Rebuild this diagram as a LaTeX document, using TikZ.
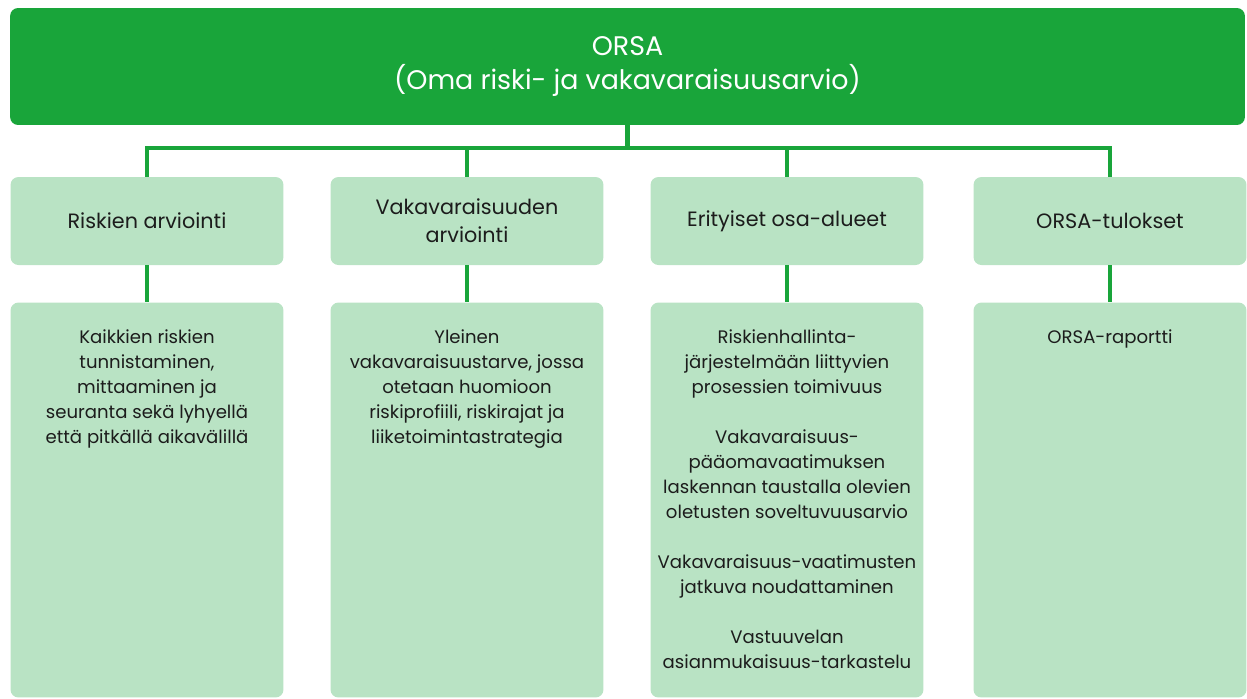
\documentclass[tikz,border=0pt]{standalone}
\usepackage{fontspec}
\setmainfont{Poppins}
\usetikzlibrary{positioning}
\definecolor{orsa_dark}  {HTML} {19A53A}
\definecolor{orsa_light} {HTML} {B9E3C4}
\definecolor{orsa_text}  {HTML} {1C1C1C}

\begin{document}
\begin{tikzpicture}[x=0.02cm,y=-0.02cm,
  head/.style={fill=orsa_dark,rounded corners=4.5pt,minimum width=24.7cm,minimum height=2.34cm,
    text=white,align=center,font=\fontsize{15.3}{19.8}\selectfont},
  area/.style={fill=orsa_light,rounded corners=4.5pt,minimum width=5.46cm,minimum height=1.76cm,
    text=orsa_text,align=center,font=\fontsize{11.8}{15.9}\selectfont},
  detail/.style={fill=orsa_light,rounded corners=4.5pt,minimum width=5.46cm,minimum height=7.9cm},
  detailtext/.style={text=orsa_text,align=center,inner sep=0pt,font=\fontsize{10.3}{14.2}\selectfont},
  link/.style={draw=orsa_dark,line width=2.3pt}]
\useasboundingbox (0,0) rectangle (1247,698);
% title
\node[head] (orsa) at (627.5,66.5) {ORSA\\(Oma riski- ja vakavaraisuusarvio)};
% main areas
\node[area] (riski) at (147,221) {Riskien arviointi};
\node[area] (vaka) at (467,221) {Vakavaraisuuden\\arviointi};
\node[area] (erit) at (787,221) {Erityiset osa-alueet};
\node[area] (tulos) at (1110,221) {ORSA-tulokset};
% details
\node[detail] (riski_d) at (147,500) {};
\node[detail] (vaka_d) at (467,500) {};
\node[detail] (erit_d) at (787,500) {};
\node[detail] (tulos_d) at (1110,500) {};
\node[detailtext,below=0.55cm of riski_d.north] (riski_t) {Kaikkien riskien\\tunnistaminen,\\mittaaminen ja\\seuranta sekä lyhyellä\\että pitkällä aikavälillä};
\node[detailtext,below=0.55cm of vaka_d.north] (vaka_t) {Yleinen\\vakavaraisuustarve, jossa\\otetaan huomioon\\riskiprofiili, riskirajat ja\\liiketoimintastrategia};
\node[detailtext,below=0.55cm of erit_d.north] (erit_t) {Riskienhallinta-\\järjestelmään liittyvien\\prosessien toimivuus\\[14.2pt]Vakavaraisuus-\\pääomavaatimuksen\\laskennan taustalla olevien\\oletusten soveltuvuusarvio\\[14.2pt]Vakavaraisuus-vaatimusten\\jatkuva noudattaminen\\[14.2pt]Vastuuvelan\\asianmukaisuus-tarkastelu};
\node[detailtext,below=0.55cm of tulos_d.north] (tulos_t) {ORSA-raportti};
% connectors
\coordinate (bus) at (627.5,148);
\draw[link] (orsa.south) -- (bus);
\draw[link] (riski.north) |- (bus) -| (tulos.north);
\draw[link] (vaka.north) -- (vaka.north |- bus);
\draw[link] (erit.north) -- (erit.north |- bus);
\draw[link] (riski) -- (riski_d);
\draw[link] (vaka) -- (vaka_d);
\draw[link] (erit) -- (erit_d);
\draw[link] (tulos) -- (tulos_d);
\end{tikzpicture}
\end{document}
